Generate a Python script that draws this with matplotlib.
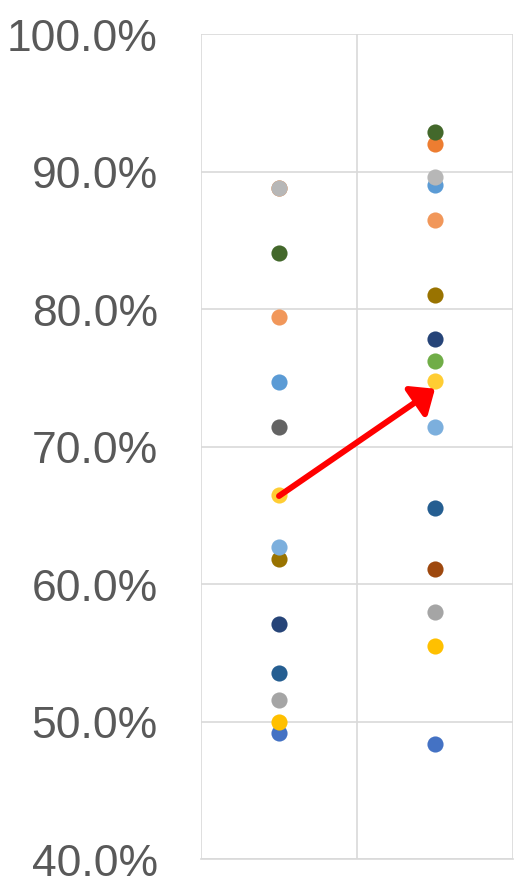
import matplotlib
matplotlib.use("Agg")
import matplotlib.pyplot as plt
import numpy as np

# Data: each series has a value at the left and right category
colors = ["#4472C4", "#ED7D31", "#A5A5A5", "#FFC000", "#5B9BD5", "#70AD47",
          "#264478", "#9E480E", "#636363", "#997300", "#255E91", "#43682B",
          "#7CAFDD", "#F1975A", "#B7B7B7", "#FFCD33"]
left_vals = [49.2, 88.8, 51.6, 50.0, 74.7, np.nan, 57.1, np.nan, 71.4, 61.8,
             53.5, 84.1, 62.7, 79.4, 88.8, 66.5]
right_vals = [48.4, 92.0, 58.0, 55.5, 89.0, 76.2, 77.8, 61.1, np.nan, 81.0,
              65.5, 92.9, 71.4, 86.5, 89.6, 74.8]
x_positions = [0.5, 1.5]
y_ticks = [40, 50, 60, 70, 80, 90, 100]
arrow_start = (0.5, 66.4)
arrow_end = (1.5, 74.2)

fig = plt.figure(figsize=(5.2, 8.87), dpi=100)
ax = fig.add_axes([201/520, 1-860/887, (513-201)/520, (860-35)/887])

for c, l, r in zip(colors, left_vals, right_vals):
    ax.scatter(x_positions, [l, r], s=135, color=c, zorder=3, linewidths=0)

ax.annotate("", xy=arrow_end, xytext=arrow_start,
            arrowprops=dict(arrowstyle="-|>,head_length=0.65,head_width=0.55",
                            mutation_scale=20, color="#FF0000", lw=4.3,
                            shrinkA=0, shrinkB=0), zorder=4)

ax.set_xlim(0, 2)
ax.set_ylim(40, 100)
ax.set_xticks([0, 1, 2])
ax.set_xticklabels([])
ax.set_yticks(y_ticks)
ax.set_yticklabels([f"{v:.1f}%" for v in y_ticks], fontsize=32,
                   color="#595959", family="Liberation Sans")
ax.tick_params(axis="both", length=0)
ax.tick_params(axis="y", pad=31)
ax.grid(True, color="#D9D9D9", lw=1.2, zorder=0)
for s in ax.spines.values():
    s.set_visible(False)
ax.spines["bottom"].set_visible(True)
ax.spines["bottom"].set_color("#D9D9D9")
ax.spines["bottom"].set_linewidth(1.2)
ax.set_axisbelow(True)

fig.savefig("out.png", dpi=100)
